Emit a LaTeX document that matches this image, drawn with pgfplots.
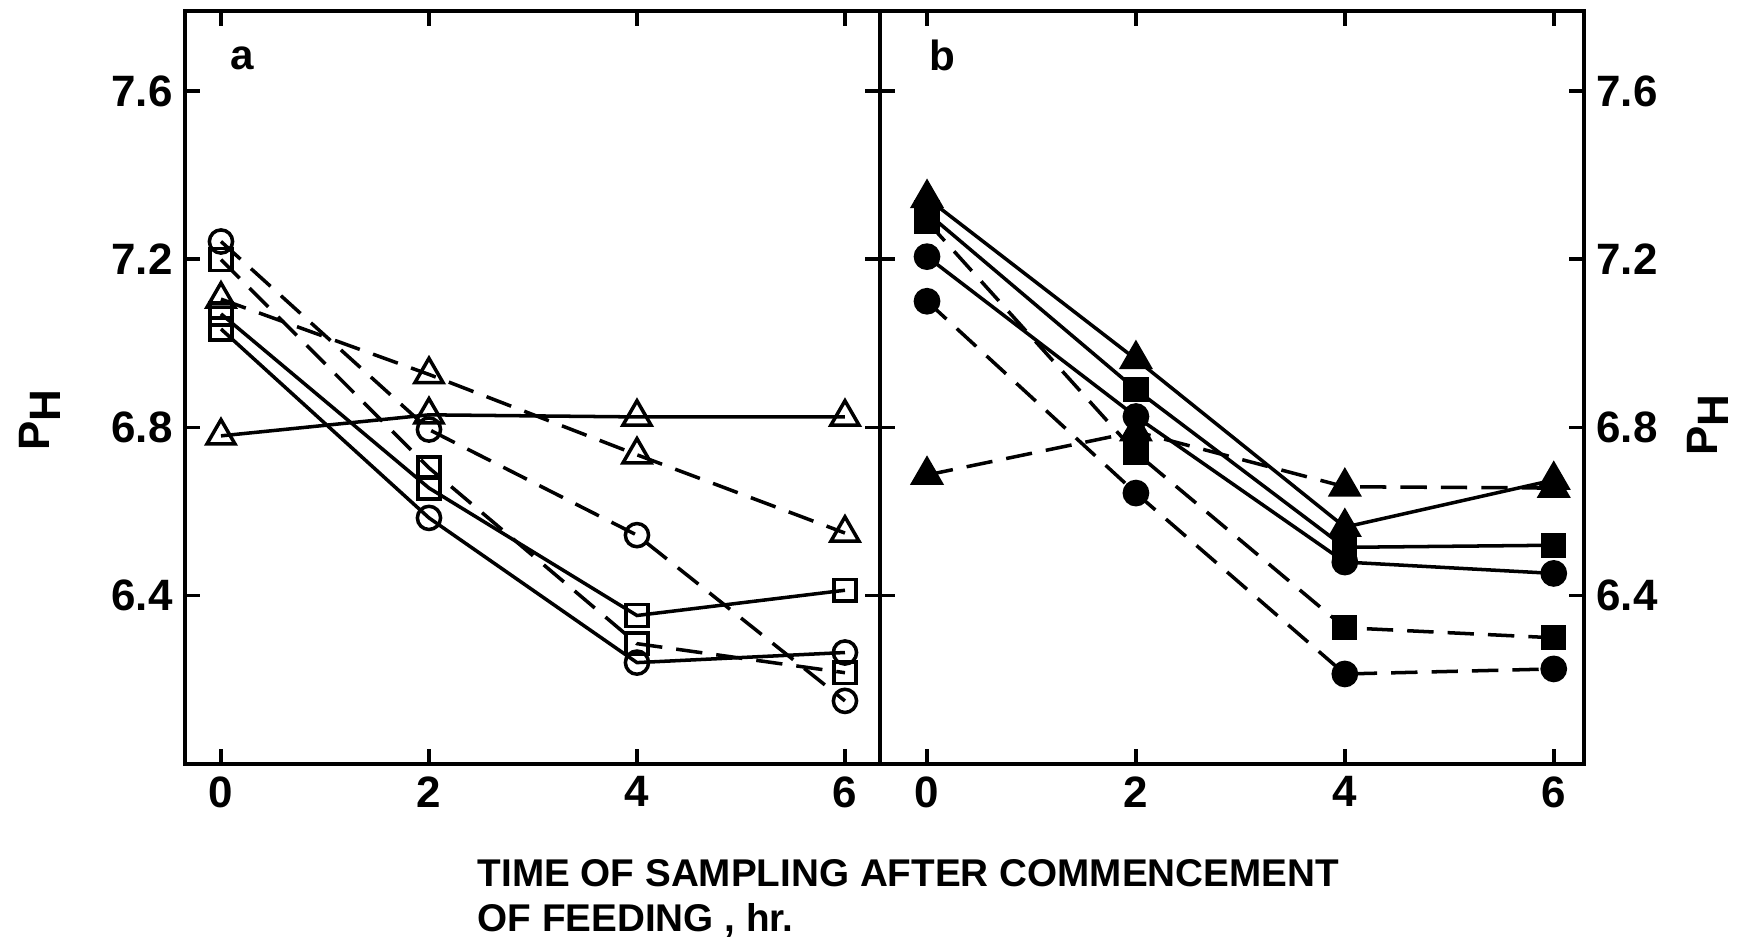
\documentclass[border=0pt]{standalone}
\usepackage{fontspec}
\setmainfont{Liberation Sans}
\usepackage{pgfplots}
\pgfplotsset{compat=1.18}

\begin{document}
\begin{tikzpicture}[x=1cm,y=1cm]
\useasboundingbox (0,0) rectangle (17.62,9.45);
\pgfplotsset{
  panel/.style={
    scale only axis, anchor=south west, height=7.53cm,
    ymin=6.0, ymax=7.79,
    xtick={0,2,4,6}, ytick={6.4,6.8,7.2,7.6},
    tick align=inside, xtick pos=both, ytick pos=both,
    xticklabel pos=bottom,
    major tick length=0.15cm,
    axis line style={line width=1.3pt},
    tick style={line width=1pt, black},
    /pgf/number format/assume math mode=true,
    ticklabel style={font=\bfseries\fontsize{12.5}{14}\selectfont},
    yticklabel style={/pgf/number format/fixed, /pgf/number format/precision=1, /pgf/number format/fixed zerofill},
    clip=false,
  },
  sol/.style={black, line width=1pt, solid},
  dsh/.style={black, line width=1pt, dash pattern=on 7.5pt off 4pt},
  otri/.style={mark=triangle, mark size=4.6pt, mark options={solid, fill=white, line width=1pt}},
  ocir/.style={mark=o, mark size=3.3pt, mark options={solid, fill=white, line width=1pt}},
  osq/.style={mark=square, mark size=3.1pt, mark options={solid, fill=white, line width=1pt}},
  ftri/.style={mark=triangle*, mark size=4.6pt, mark options={solid, fill=black}},
  fcir/.style={mark=*, mark size=3.3pt, mark options={solid, fill=black}},
  fsq/.style={mark=square*, mark size=3.1pt, mark options={solid, fill=black}},
}

% Panel a
\begin{axis}[panel, at={(1.85cm,1.81cm)}, width=6.95cm,
  xmin=-0.346, xmax=6.337, yticklabel pos=left]
\addplot[sol, otri] coordinates {(0,6.78) (2,6.83) (4,6.825) (6,6.825)};
\addplot[dsh, otri] coordinates {(0,7.105) (2,6.926) (4,6.735) (6,6.549)};
\addplot[dsh, ocir] coordinates {(0,7.242) (2,6.795) (4,6.544) (6,6.15)};
\addplot[dsh, osq] coordinates {(0,7.199) (2,6.704) (4,6.286) (6,6.217)};
\addplot[sol, osq] coordinates {(0,7.07) (2,6.656) (4,6.353) (6,6.413)};
\addplot[sol, ocir, mark indices={2,3,4}] coordinates {(0,7.034) (2,6.585) (4,6.241) (6,6.265)};
\addplot[only marks, osq] coordinates {(0,7.034)};
\end{axis}

% Panel b
\begin{axis}[panel, at={(8.80cm,1.81cm)}, width=7.04cm,
  xmin=-0.45, xmax=6.29, yticklabel pos=right]
\addplot[dsh, ftri] coordinates {(0,6.687) (2,6.79) (4,6.659) (6,6.656)};
\addplot[dsh, fcir] coordinates {(0,7.10) (2,6.644) (4,6.214) (6,6.226)};
\addplot[dsh, fsq] coordinates {(0,7.29) (2,6.74) (4,6.324) (6,6.30)};
\addplot[sol, fcir] coordinates {(0,7.206) (2,6.826) (4,6.48) (6,6.453)};
\addplot[sol, fsq] coordinates {(0,7.31) (2,6.89) (4,6.515) (6,6.52)};
\addplot[sol, ftri] coordinates {(0,7.345) (2,6.962) (4,6.563) (6,6.675)};
\end{axis}

\node[font=\bfseries\fontsize{12}{14}\selectfont] at (2.42,8.87) {a};
\node[font=\bfseries\fontsize{12}{14}\selectfont] at (9.42,8.90) {b};
\node[rotate=90, font=\bfseries\fontsize{12.5}{14}\selectfont] at (0.40,5.25) {P\raisebox{-0.5ex}{H}};
\node[rotate=90, font=\bfseries\fontsize{12.5}{14}\selectfont] at (17.08,5.20) {P\raisebox{-0.5ex}{H}};
\node[anchor=base west, inner sep=0pt, font=\bfseries\fontsize{11}{13}\selectfont] at (4.77,0.58) {TIME OF SAMPLING AFTER COMMENCEMENT};
\node[anchor=base west, inner sep=0pt, font=\bfseries\fontsize{11}{13}\selectfont] at (4.77,0.13) {OF FEEDING , hr.};
\end{tikzpicture}
\end{document}
